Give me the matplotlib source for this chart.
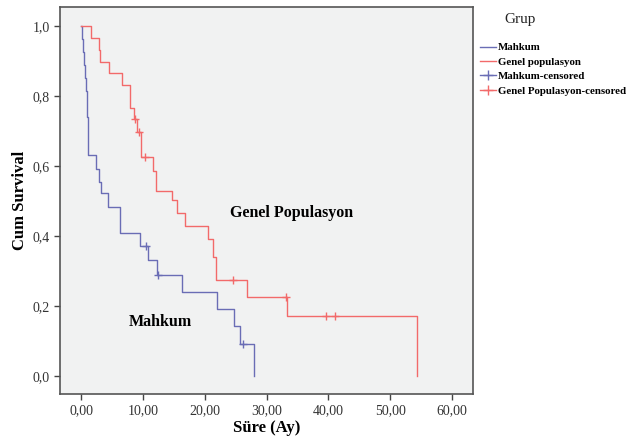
import numpy as np
import matplotlib
matplotlib.use('Agg')
import matplotlib.pyplot as plt
from matplotlib.lines import Line2D

plt.rcParams['font.family'] = ['Liberation Serif', 'DejaVu Serif']

# Mahkum grubu (zaman, kumulatif sagkalim)
mahkum_t = [0, 0.1, 0.4, 0.5, 0.7, 0.8, 0.9, 1.0, 1.1, 1.15, 1.2, 2.5, 2.9, 3.3,
            4.3, 6.3, 9.5, 10.9, 12.3, 16.3, 22.0, 24.8, 25.7, 27.9]
mahkum_s = [1.0, 0.963, 0.926, 0.889, 0.852, 0.815, 0.778, 0.741, 0.704, 0.667, 0.631,
            0.592, 0.555, 0.522, 0.482, 0.408, 0.371, 0.331, 0.289, 0.239, 0.193,
            0.144, 0.093, 0.0]
mahkum_cens_t = [10.5, 12.4, 26.2]
mahkum_cens_s = [0.371, 0.289, 0.093]

# Genel populasyon
genel_t = [0, 1.6, 2.9, 3.1, 4.6, 6.6, 8.0, 8.5, 9.0, 9.7, 11.7, 12.1, 14.7, 15.5,
           16.8, 20.6, 21.4, 21.8, 26.8, 33.3, 54.3]
genel_s = [1.0, 0.965, 0.931, 0.898, 0.866, 0.831, 0.765, 0.734, 0.698, 0.627, 0.587,
           0.53, 0.503, 0.467, 0.43, 0.391, 0.34, 0.274, 0.227, 0.172, 0.0]
genel_cens_t = [8.7, 9.4, 10.3, 24.5, 33.2, 39.6, 41.1]
genel_cens_s = [0.734, 0.698, 0.627, 0.274, 0.227, 0.172, 0.172]

xticks = [0, 10, 20, 30, 40, 50, 60]
yticks = [0.0, 0.2, 0.4, 0.6, 0.8, 1.0]

blue = '#6a6db5'
red = '#f26a6a'

fig = plt.figure(figsize=(6.41, 4.45), dpi=100)
ax = fig.add_axes([0.0936, 0.1146, 0.738 - 0.0936, 0.984 - 0.1146])
ax.set_facecolor('#f1f2f2')

ax.step(mahkum_t, mahkum_s, where='post', color=blue, lw=1.0)
ax.step(genel_t, genel_s, where='post', color=red, lw=1.0)
ax.plot(mahkum_cens_t, mahkum_cens_s, '+', color=blue, ms=6, mew=1.0)
ax.plot(genel_cens_t, genel_cens_s, '+', color=red, ms=6, mew=1.0)

ax.set_xlim(-3.4, 63.4)
ax.set_ylim(-0.051, 1.054)
ax.set_xticks(xticks)
ax.set_xticklabels([f'{v:.2f}'.replace('.', ',') for v in xticks])
ax.set_yticks(yticks)
ax.set_yticklabels([f'{v:.1f}'.replace('.', ',') for v in yticks])
ax.tick_params(direction='out', length=4, width=1, colors='#444444',
               labelcolor='#333333', labelsize=10, top=False, right=False)
for sp in ax.spines.values():
    sp.set_color('#555555')
    sp.set_linewidth(1.2)

ax.set_xlabel('Süre (Ay)', fontsize=12, fontweight='bold', labelpad=2)
ax.set_ylabel('Cum Survival', fontsize=12, fontweight='bold', labelpad=3)

ax.text(34.0, 0.465, 'Genel Populasyon', fontsize=11.5, fontweight='bold',
        ha='center', va='center')
ax.text(12.8, 0.155, 'Mahkum', fontsize=11.5, fontweight='bold',
        ha='center', va='center')

# legend
fig.text(520 / 641, 1 - 20 / 445, 'Grup', fontsize=11, ha='center', va='center',
         color='#222222')
handles = [Line2D([], [], color=blue, lw=1.0),
           Line2D([], [], color=red, lw=1.0),
           Line2D([], [], color=blue, lw=1.0, marker='+', ms=7),
           Line2D([], [], color=red, lw=1.0, marker='+', ms=7)]
labels = ['Mahkum', 'Genel populasyon', 'Mahkum-censored', 'Genel Populasyon-censored']
leg = fig.legend(handles, labels, loc='upper left',
                 bbox_to_anchor=(470 / 641, 1 - 33 / 445),
                 frameon=False, prop={'weight': 'bold', 'size': 7.8},
                 handlelength=1.5, handletextpad=0.2, labelspacing=0.45)

fig.savefig('out.png', dpi=100, facecolor='white')
